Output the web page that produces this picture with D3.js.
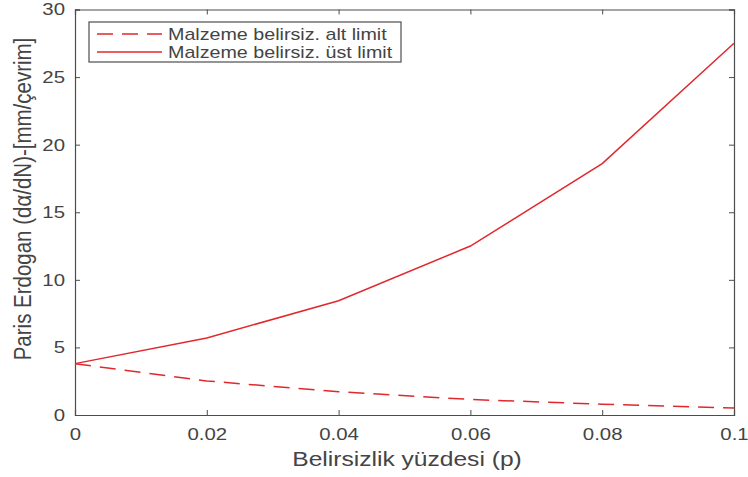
<!DOCTYPE html>
<html>
<head>
<meta charset="utf-8">
<script src="https://cdn.jsdelivr.net/npm/d3@7"></script>
<style>
  html, body { margin: 0; padding: 0; background: #fff; }
  svg { display: block; font-family: "Liberation Sans", Arial, sans-serif; }
</style>
</head>
<body>
<svg id="chart" width="748" height="477"></svg>
<script>
// Uncertainty percentage (p)
const pValues = [0, 0.02, 0.04, 0.06, 0.08, 0.1];
// Crack growth rate, lower material uncertainty bound
const lowerLimit = [3.8, 2.52, 1.72, 1.15, 0.8, 0.52];
// Crack growth rate, upper material uncertainty bound
const upperLimit = [3.8, 5.7, 8.45, 12.5, 18.6, 27.5];

const xTicks = [0, 0.02, 0.04, 0.06, 0.08, 0.1];
const yTicks = [0, 5, 10, 15, 20, 25, 30];
const seriesNames = ["Malzeme belirsiz. alt limit", "Malzeme belirsiz. üst limit"];
const xTitle = "Belirsizlik yüzdesi (p)";
const yTitle = "Paris Erdogan (dα/dN)-[mm/çevrim]";

const axisColor = "#4d4d4d";
const textColor = "#444";
const lineColor = "#e0282d";
const wide = 1.2; // horizontal stretch of all lettering

const svg = d3.select("#chart");
const m = { left: 75, right: 734, top: 9.5, bottom: 415 };

const x = d3.scaleLinear().domain([0, 0.1]).range([m.left, m.right]);
const y = d3.scaleLinear().domain([0, 30]).range([m.bottom, m.top]);

const fmtX = d => d === 0 ? "0" : String(+d.toFixed(2));

// Axes with inward ticks on all four sides
const axB = d3.axisBottom(x).tickValues(xTicks).tickSize(-5).tickPadding(13).tickFormat(fmtX);
const axT = d3.axisTop(x).tickValues(xTicks).tickSize(-5).tickFormat("");
const axL = d3.axisLeft(y).tickValues(yTicks).tickSize(-5).tickPadding(10);
const axR = d3.axisRight(y).tickValues(yTicks).tickSize(-5).tickFormat("");

function styleAxis(g) {
  g.selectAll("path.domain").attr("stroke", axisColor).attr("stroke-width", 1.2);
  g.selectAll(".tick line").attr("stroke", axisColor).attr("stroke-width", 1);
  g.selectAll(".tick text").attr("fill", textColor).style("font-size", "17px")
    .style("font-family", "Liberation Sans, Arial, sans-serif");
}

const gB = svg.append("g").attr("transform", `translate(0,${m.bottom})`).call(axB).call(styleAxis);
svg.append("g").attr("transform", `translate(0,${m.top})`).call(axT).call(styleAxis);
const gL = svg.append("g").attr("transform", `translate(${m.left},0)`).call(axL).call(styleAxis);
svg.append("g").attr("transform", `translate(${m.right},0)`).call(axR).call(styleAxis);

// Widen tick labels around their anchors
gB.selectAll(".tick text").attr("x", 0).attr("transform", `scale(${wide},1)`);
gL.selectAll(".tick text").attr("x", -10 / wide).attr("transform", `scale(${wide},1)`);

// Axis titles
svg.append("text")
  .attr("transform", `translate(407,466) scale(${wide},1)`)
  .attr("text-anchor", "middle").attr("fill", textColor)
  .style("font-size", "20.5px").text(xTitle);

svg.append("text")
  .attr("transform", `translate(31,199) rotate(-90) scale(1,${wide})`)
  .attr("text-anchor", "middle").attr("fill", textColor)
  .style("font-size", "20.5px").text(yTitle);

// Series lines
const line = d3.line().x((d, i) => x(pValues[i])).y(d => y(d));

svg.append("path").datum(lowerLimit)
  .attr("d", line).attr("fill", "none")
  .attr("stroke", lineColor).attr("stroke-width", 1.5)
  .attr("stroke-dasharray", "16,9");

svg.append("path").datum(upperLimit)
  .attr("d", line).attr("fill", "none")
  .attr("stroke", lineColor).attr("stroke-width", 1.5);

// Legend
const lg = svg.append("g");
lg.append("rect").attr("x", 89).attr("y", 22).attr("width", 312).attr("height", 40)
  .attr("fill", "#fff").attr("stroke", axisColor).attr("stroke-width", 1.2);

const dashes = ["16,9", null];
seriesNames.forEach((name, i) => {
  const cy = 34 + i * 18;
  lg.append("line").attr("x1", 97).attr("x2", 162).attr("y1", cy).attr("y2", cy)
    .attr("stroke", lineColor).attr("stroke-width", 1.5)
    .attr("stroke-dasharray", dashes[i]);
  lg.append("text").attr("transform", `translate(168,${cy + 6}) scale(${wide},1)`)
    .attr("fill", textColor).style("font-size", "16.4px").text(name);
});
</script>
</body>
</html>
